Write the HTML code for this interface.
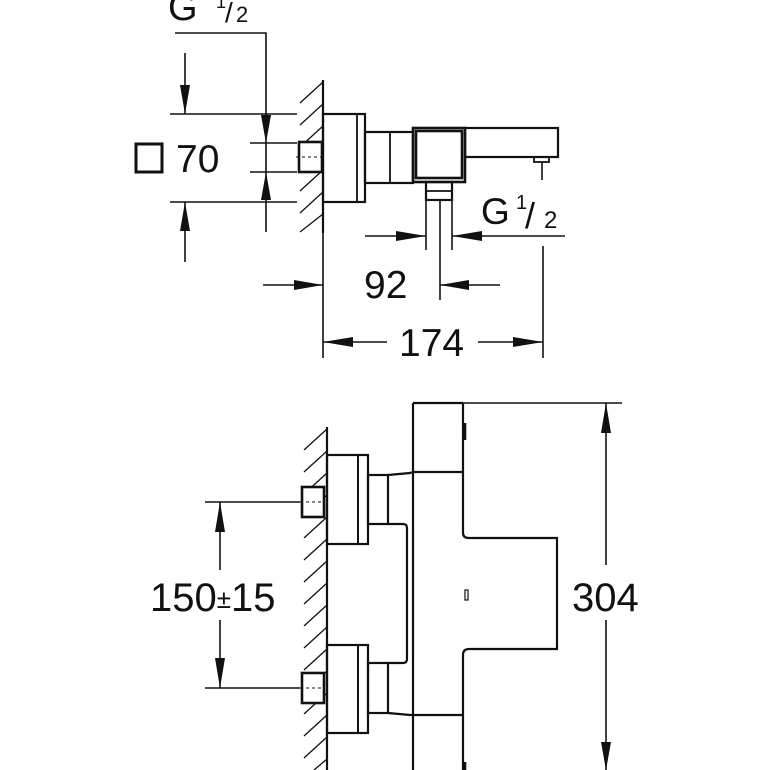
<!DOCTYPE html>
<html><head><meta charset="utf-8"><style>
html,body{margin:0;padding:0;background:#fff;}
svg{display:block;}
text{font-family:"Liberation Sans",sans-serif;fill:#111;}
</style></head><body>
<svg width="770" height="770" viewBox="0 0 770 770" xmlns="http://www.w3.org/2000/svg">
<g fill="none" stroke="#111" stroke-width="1.6">
<line x1="323" y1="80" x2="323" y2="233" stroke-width="2.2"/>
<g stroke-width="1.3">
<line x1="300" y1="103" x2="323" y2="82"/>
<line x1="300" y1="125" x2="323" y2="104"/>
<line x1="300" y1="147" x2="323" y2="126"/>
<line x1="300" y1="169" x2="323" y2="148"/>
<line x1="300" y1="191" x2="323" y2="170"/>
<line x1="300" y1="213" x2="323" y2="192"/>
<line x1="300" y1="232" x2="323" y2="214"/>
</g>
<rect x="323" y="114" width="42" height="88" stroke-width="2.2"/>
<line x1="357" y1="114" x2="357" y2="202" stroke-width="1.8"/>
<rect x="299" y="142" width="23" height="30" stroke-width="2.6" fill="#fff"/>
<line x1="296" y1="157" x2="322" y2="157" stroke-dasharray="3,3" stroke-width="1"/>
<rect x="365" y="132" width="48" height="51" stroke-width="2.2"/>
<line x1="390" y1="132" x2="390" y2="183" stroke-width="1.8"/>
<rect x="413" y="128" width="52" height="54" stroke-width="2.6"/>
<rect x="416" y="131" width="46" height="47" stroke-width="2.6"/>
<rect x="465" y="128" width="93" height="29" stroke-width="2.2"/>
<rect x="534" y="157" width="15" height="5" stroke-width="1.8"/>
<rect x="426" y="182" width="26" height="18" stroke-width="2.2"/>
<line x1="426" y1="191" x2="452" y2="191" stroke-width="1.8"/>
<polyline points="175,33 266,33 266,232"/>
<line x1="170" y1="114" x2="297" y2="114"/>
<line x1="170" y1="202" x2="297" y2="202"/>
<line x1="250" y1="143" x2="297" y2="143"/>
<line x1="250" y1="172" x2="297" y2="172"/>
<line x1="185" y1="53" x2="185" y2="114"/>
<line x1="185" y1="202" x2="185" y2="262"/>
<line x1="426" y1="200" x2="426" y2="250"/>
<line x1="452" y1="200" x2="452" y2="250"/>
<line x1="365" y1="236" x2="426" y2="236"/>
<line x1="452" y1="236" x2="565" y2="236"/>
<line x1="440" y1="200" x2="440" y2="300"/>
<line x1="263" y1="285" x2="323" y2="285"/>
<line x1="440" y1="285" x2="500" y2="285"/>
<line x1="542" y1="162" x2="542" y2="180"/>
<line x1="543" y1="246" x2="543" y2="358"/>
<line x1="323" y1="233" x2="323" y2="358"/>
<line x1="323" y1="342" x2="387" y2="342"/>
<line x1="478" y1="342" x2="543" y2="342"/>

<line x1="327" y1="427" x2="327" y2="770" stroke-width="2.2"/>
<g stroke-width="1.3">
<line x1="304" y1="450" x2="327" y2="429"/>
<line x1="304" y1="472" x2="327" y2="451"/>
<line x1="304" y1="494" x2="327" y2="473"/>
<line x1="304" y1="516" x2="327" y2="495"/>
<line x1="304" y1="538" x2="327" y2="517"/>
<line x1="304" y1="560" x2="327" y2="539"/>
<line x1="304" y1="582" x2="327" y2="561"/>
<line x1="304" y1="604" x2="327" y2="583"/>
<line x1="304" y1="626" x2="327" y2="605"/>
<line x1="304" y1="648" x2="327" y2="627"/>
<line x1="304" y1="670" x2="327" y2="649"/>
<line x1="304" y1="692" x2="327" y2="671"/>
<line x1="304" y1="714" x2="327" y2="693"/>
<line x1="304" y1="736" x2="327" y2="715"/>
<line x1="304" y1="758" x2="327" y2="737"/>
<line x1="314" y1="770" x2="327" y2="759"/>
</g>
<rect x="327" y="455" width="41" height="89" stroke-width="2.2"/>
<line x1="358" y1="455" x2="358" y2="544" stroke-width="2"/>
<rect x="327" y="645" width="41" height="88" stroke-width="2.2"/>
<line x1="358" y1="645" x2="358" y2="733" stroke-width="2"/>
<rect x="302" y="487" width="22" height="30" stroke-width="2.6" fill="#fff"/>
<rect x="302" y="673" width="22" height="30" stroke-width="2.6" fill="#fff"/>
<line x1="300" y1="502" x2="324" y2="502" stroke-dasharray="3,3" stroke-width="1"/>
<line x1="300" y1="688" x2="324" y2="688" stroke-dasharray="3,3" stroke-width="1"/>
<rect x="368" y="475" width="20" height="49" stroke-width="2.2"/>
<rect x="368" y="663" width="20" height="50" stroke-width="2.2"/>
<polyline points="388,475 410,473 413,472" stroke-width="2.2"/>
<path d="M388,524 H403 Q407,524 407,528 V659 Q407,663 403,663 H388" stroke-width="2.2"/>
<polyline points="388,713 410,715 413,715" stroke-width="2.2"/>
<line x1="413" y1="403" x2="413" y2="770" stroke-width="2.2"/>
<line x1="413" y1="403" x2="463" y2="403" stroke-width="2.2"/>
<line x1="463" y1="403" x2="463" y2="472" stroke-width="2.2"/>
<line x1="413" y1="472" x2="463" y2="472" stroke-width="2.2"/>
<path d="M463,472 V533 Q463,538 469,538 H557 V649 H469 Q463,649 463,655 V770" stroke-width="2.2"/>
<line x1="413" y1="715" x2="463" y2="715" stroke-width="2.2"/>
<line x1="465" y1="423" x2="465" y2="440" stroke-width="2.6"/>
<line x1="465" y1="762" x2="465" y2="770" stroke-width="2.6"/>
<rect x="465" y="590" width="3" height="10" stroke-width="1.2"/>
<line x1="463" y1="403" x2="622" y2="403"/>
<line x1="606" y1="403" x2="606" y2="565"/>
<line x1="606" y1="620" x2="606" y2="770"/>
<line x1="205" y1="502" x2="300" y2="502"/>
<line x1="205" y1="688" x2="300" y2="688"/>
<line x1="220" y1="502" x2="220" y2="570"/>
<line x1="220" y1="620" x2="220" y2="688"/>
</g>
<g fill="#111" stroke="none">
<polygon points="266,143 261,115 271,115"/>
<polygon points="266,172 261,200 271,200"/>
<polygon points="185,114 180,85 190,85"/>
<polygon points="185,202 180,231 190,231"/>
<polygon points="426,236 396,231 396,241"/>
<polygon points="452,236 482,231 482,241"/>
<polygon points="323,285 294,280 294,290"/>
<polygon points="440,285 469,280 469,290"/>
<polygon points="323,342 353,337 353,347"/>
<polygon points="543,342 513,337 513,347"/>
<polygon points="606,403 601,433 611,433"/>
<polygon points="606,770 601,742 611,742"/>
<polygon points="220,502 215,532 225,532"/>
<polygon points="220,688 215,658 225,658"/>
</g>
<rect x="136" y="144" width="26" height="28" fill="none" stroke="#111" stroke-width="3"/>
<text x="176" y="172" font-size="39">70</text>
<text x="168" y="20" font-size="38">G</text>
<text x="216" y="8" font-size="18">1</text>
<text x="225" y="22" font-size="28">/</text>
<text x="236" y="22" font-size="22">2</text>
<text x="481" y="224" font-size="37">G</text>
<text x="516" y="209" font-size="20">1</text>
<text x="525" y="228" font-size="36">/</text>
<text x="544" y="228" font-size="24">2</text>
<text x="364" y="298" font-size="39">92</text>
<text x="399" y="356" font-size="39">174</text>
<text x="572" y="611" font-size="40">304</text>
<text x="150" y="611" font-size="40">150<tspan font-size="26" dy="-3">±</tspan><tspan dy="3">15</tspan></text>
</svg>
</body></html>
